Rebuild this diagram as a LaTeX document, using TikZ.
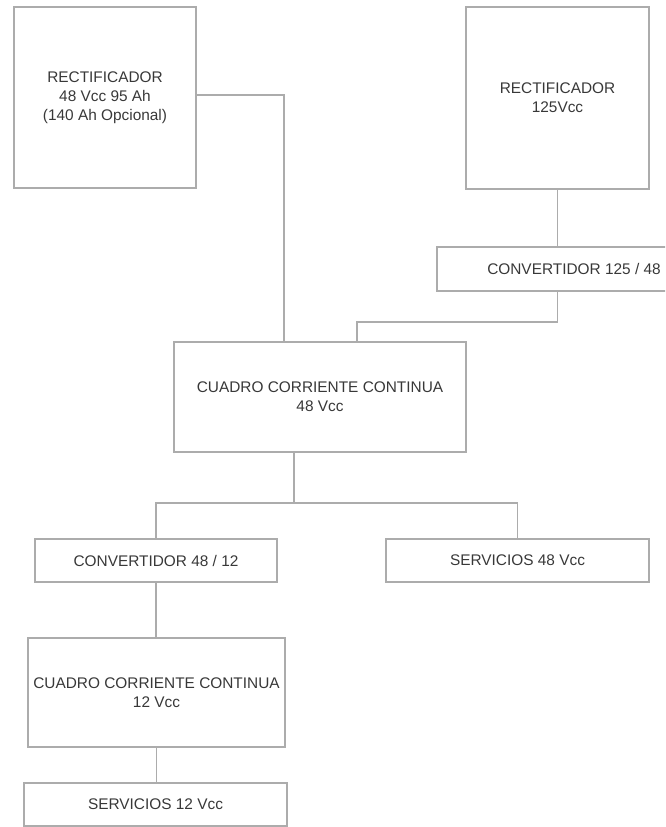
\documentclass[tikz,border=0pt]{standalone}
\usepackage{fontspec}
\setmainfont{Liberation Sans}
\begin{document}
\begin{tikzpicture}[x=1pt,y=-1pt,
  box/.style={draw=gray!65,line width=1.3pt,inner sep=0pt,align=center,
    text=black!78,font=\fontsize{15.4}{19}\selectfont},
  wire/.style={draw=gray!65,line width=1.3pt}]
  \useasboundingbox (0,0) rectangle (665,827);
  \clip (0,0) rectangle (665,827);
  \node[box,minimum width=182pt,minimum height=181pt] (r48) at (105,97.5) {RECTIFICADOR\\48 Vcc 95 Ah\\(140 Ah Opcional)};
  \node[box,minimum width=183pt,minimum height=182pt] (r125) at (557.5,98) {RECTIFICADOR\\125Vcc};
  \node[box,minimum width=274pt,minimum height=44pt] (c125) at (574,269) {CONVERTIDOR 125 / 48};
  \node[box,minimum width=292pt,minimum height=110pt] (cc48) at (320,397) {CUADRO CORRIENTE CONTINUA\\48 Vcc};
  \node[box,minimum width=242pt,minimum height=43pt] (c4812) at (156,560.5) {CONVERTIDOR 48 / 12};
  \node[box,minimum width=263pt,minimum height=43pt] (s48) at (517.5,560.5) {SERVICIOS 48 Vcc};
  \node[box,minimum width=257pt,minimum height=109pt] (cc12) at (156.5,692.5) {CUADRO CORRIENTE CONTINUA\\12 Vcc};
  \node[box,minimum width=263pt,minimum height=43pt] (s12) at (155.5,804.5) {SERVICIOS 12 Vcc};
  \coordinate (j1) at (284,95);
  \coordinate (j2) at (357,322);
  \coordinate (j3) at (294,503);
  \draw[wire] (r48.east |- j1) -- (j1) -- (j1 |- cc48.north);
  \draw[wire] (r125.south) -- (r125.south |- c125.north);
  \draw[wire] (r125.south |- c125.south) |- (j2) -- (j2 |- cc48.north);
  \draw[wire] (j3 |- cc48.south) -- (j3);
  \draw[wire] (c4812.north) |- (j3) -| (s48.north);
  \draw[wire] (c4812.south) -- (c4812.south |- cc12.north);
  \draw[wire] (cc12.south) -- (cc12.south |- s12.north);
\end{tikzpicture}
\end{document}
